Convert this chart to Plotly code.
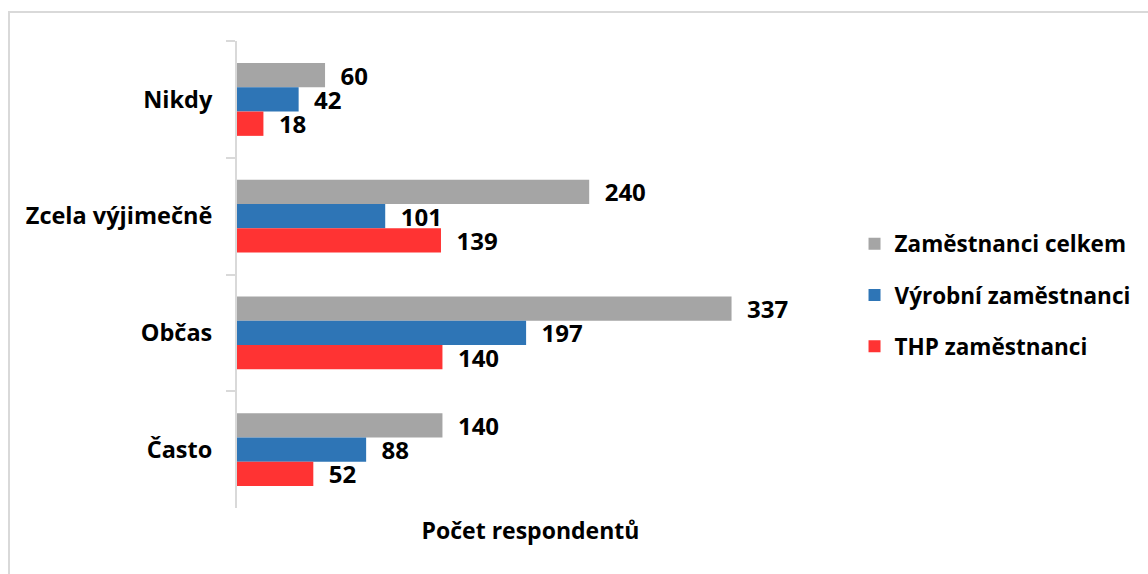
import plotly.graph_objects as go

categories = ["Nikdy", "Zcela výjimečně", "Občas", "Často"]
series_names = ["Zaměstnanci celkem", "Výrobní zaměstnanci", "THP zaměstnanci"]
celkem = [60, 240, 337, 140]
vyrobni = [42, 101, 197, 88]
thp = [18, 139, 140, 52]
colors = ["#a5a5a5", "#2e75b6", "#ff3333"]

FONT = "Open Sans"
fig = go.Figure()
for name, vals, col in zip(series_names, [celkem, vyrobni, thp], colors):
    fig.add_trace(go.Bar(
        y=categories, x=vals, name=name, orientation="h",
        marker=dict(color=col, line=dict(width=0)),
        texttemplate="  %{x}", textposition="outside", constraintext="none",
        cliponaxis=False,
        textfont=dict(family=FONT, size=24, color="black", weight="bold"),
        legendgroup=name,
    ))

fig.update_layout(
    width=1148, height=574,
    margin=dict(l=237, r=324, t=41, b=66),
    paper_bgcolor="white", plot_bgcolor="white",
    barmode="group", bargap=0.375, bargroupgap=0,
    font=dict(family=FONT, size=20, color="black", weight="bold"),
    legend=dict(x=1.052, y=0.456, xanchor="left", yanchor="middle",
                traceorder="grouped", tracegroupgap=19,
                font=dict(family=FONT, size=22.5, color="black", weight="bold"),
                itemwidth=30),
    showlegend=True,
)
fig.update_xaxes(range=[0, 400], showgrid=False, zeroline=False, showline=False,
                 showticklabels=False, ticks="",
                 title=dict(text="Počet respondentů", standoff=14,
                            font=dict(family=FONT, size=23, color="black", weight="bold")))
fig.update_yaxes(autorange="reversed", showgrid=False, showline=True,
                 linecolor="#d9d9d9", linewidth=2, ticks="outside", ticklen=9,
                 tickcolor="#d9d9d9", tickwidth=2, tickson="boundaries",
                 ticklabelstandoff=18,
                 tickfont=dict(family=FONT, size=23.5, color="black", weight="bold"))
fig.add_shape(type="rect", xref="paper", yref="paper",
              x0=-0.3884, x1=2.0, y0=-1.0, y1=1.0621,
              line=dict(color="#d9d9d9", width=2), fillcolor="rgba(0,0,0,0)", layer="below")

fig.write_html("out.html")
